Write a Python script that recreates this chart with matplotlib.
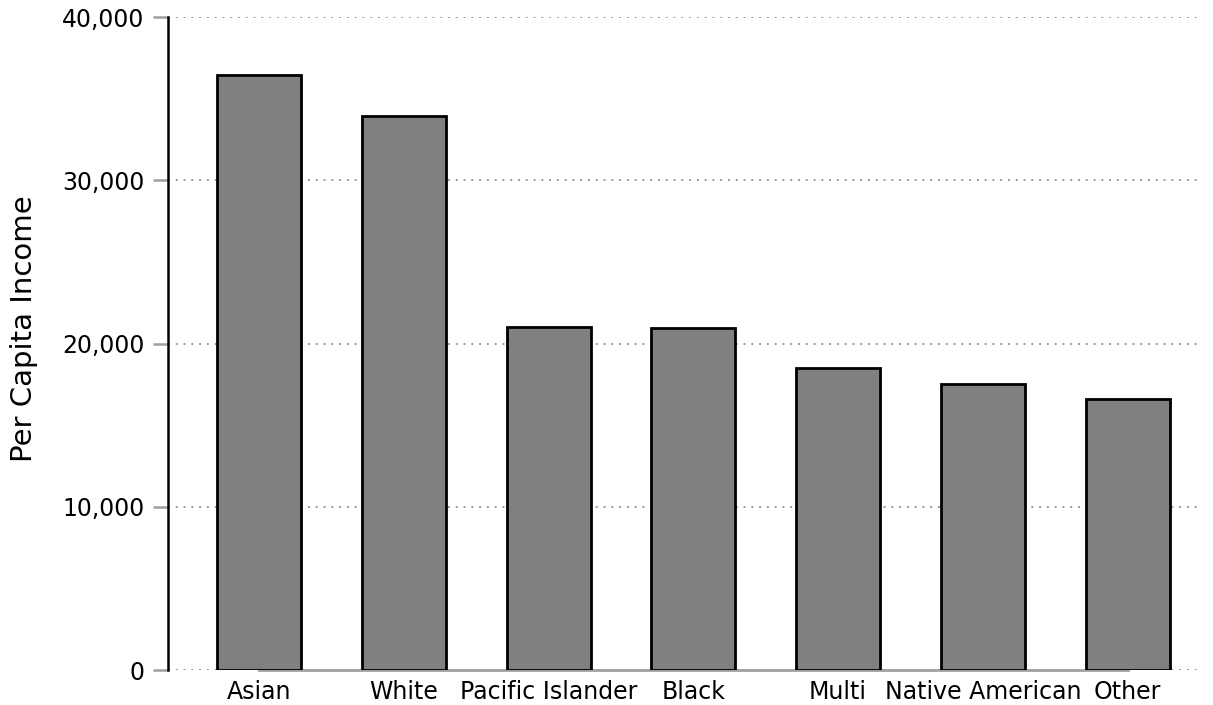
import matplotlib.pyplot as plt
import numpy as np

# Per capita income by race
groups = ['Asian', 'White', 'Pacific Islander', 'Black', 'Multi', 'Native American', 'Other']
income = [36450, 33950, 21000, 20950, 18500, 17500, 16600]
yticks = [0, 10000, 20000, 30000, 40000]

plt.rcParams['font.family'] = 'DejaVu Sans'

fig = plt.figure(figsize=(12.13, 7.05), dpi=100)
ax = fig.add_axes([168 / 1213, 35 / 705, (1197 - 168) / 1213, (670 - 17) / 705])

x = np.arange(len(groups))
ax.bar(x, income, width=0.58, color='#808080', edgecolor='black', linewidth=2, zorder=3)

ax.set_xlim(-0.63, 6.48)
ax.set_ylim(0, 40000)
ax.set_yticks(yticks)
ax.set_yticklabels([f'{v:,}' for v in yticks])
ax.set_xticks(x)
ax.set_xticklabels(groups)

ax.grid(axis='y', color='#999999', linestyle=(0, (1, 3)), linewidth=1.4, zorder=0)

for s in ['top', 'right', 'bottom']:
    ax.spines[s].set_visible(False)
ax.spines['left'].set_color('black')
ax.spines['left'].set_linewidth(1.8)

# x axis line only spans first to last category
ax.plot([x[0], x[-1]], [0, 0], color='#a0a0a0', linewidth=2, zorder=2, clip_on=False)

ax.tick_params(axis='y', length=11, width=1.8, color='#a0a0a0', labelsize=17, pad=6)
ax.tick_params(axis='x', length=0, labelsize=17, pad=7)
ax.set_ylabel('Per Capita Income', fontsize=21)
ax.yaxis.set_label_coords(-0.126, 0.523)

plt.savefig('out.png', dpi=100)
